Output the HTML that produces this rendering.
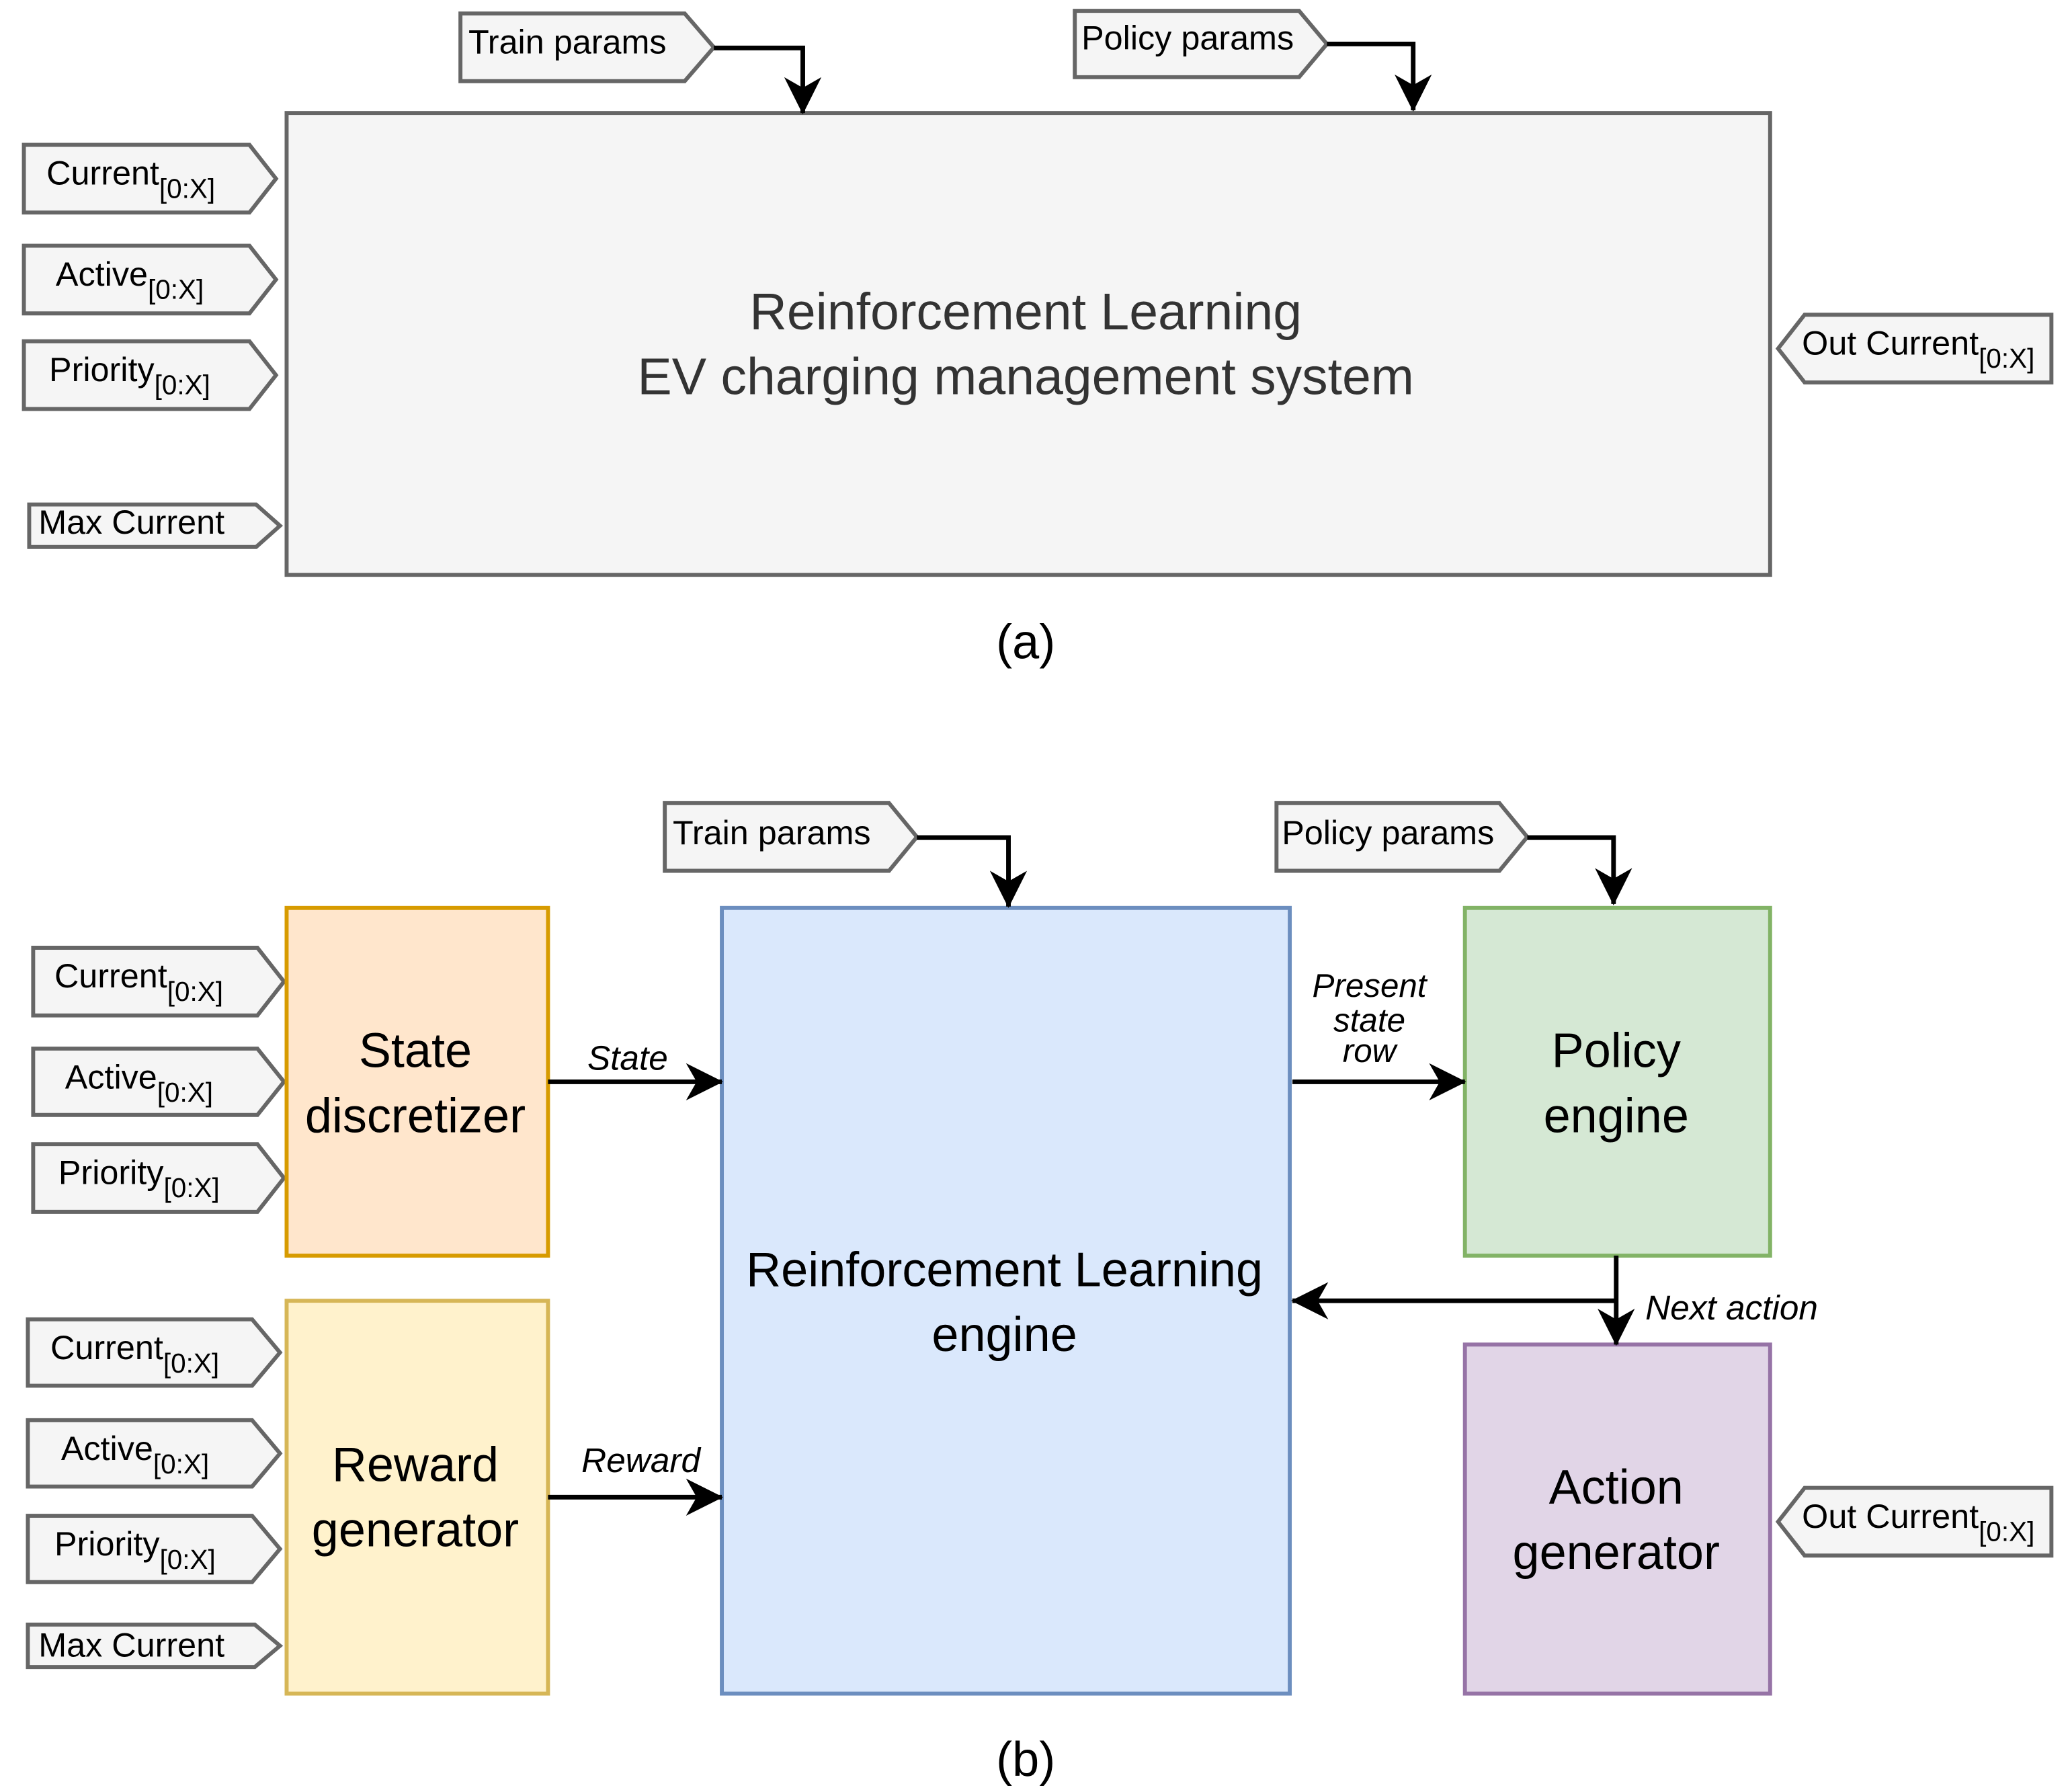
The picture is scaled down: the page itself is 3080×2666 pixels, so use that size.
<!DOCTYPE html>
<html><head><meta charset="utf-8"><style>
html,body{margin:0;padding:0;background:#fff}
svg{display:block}
text{font-family:"Liberation Sans",Arial,sans-serif}
</style></head><body>
<svg width="3080" height="2666" viewBox="0 0 1560 1350" xmlns="http://www.w3.org/2000/svg">
<defs>
<marker id="ar" viewBox="0 0 28 28" refX="27" refY="14" markerWidth="28" markerHeight="28" markerUnits="userSpaceOnUse" orient="auto">
<path d="M0,0 L28,14 L0,28 L8,14 Z" fill="#000"/>
</marker>
</defs>
<g fill="#f5f5f5" stroke="#666" stroke-width="3">
<polygon points="347,10 516,10 538,35.5 516,61 347,61"/>
<polygon points="810,8 979,8 1000,33 979,58 810,58"/>
<rect x="216" y="85" width="1118" height="348"/>
<polygon points="18,109 188,109 208,134.5 188,160 18,160"/>
<polygon points="18,185 188,185 208,210.5 188,236 18,236"/>
<polygon points="18,257 188,257 208,282.5 188,308 18,308"/>
<polygon points="22,380 193,380 211,396 193,412 22,412"/>
<polygon points="1546,237 1360,237 1340,262.5 1360,288 1546,288"/>
<polygon points="501,605 670,605 691,630.5 670,656 501,656"/>
<polygon points="962,605 1130,605 1151,630.5 1130,656 962,656"/>
<polygon points="25,714 194,714 214,739.5 194,765 25,765"/>
<polygon points="25,790 194,790 214,815 194,840 25,840"/>
<polygon points="25,862 194,862 214,887.5 194,913 25,913"/>
<polygon points="21,994 190,994 211,1019 190,1044 21,1044"/>
<polygon points="21,1070 190,1070 211,1095 190,1120 21,1120"/>
<polygon points="21,1142 190,1142 211,1167 190,1192 21,1192"/>
<polygon points="21,1224 192,1224 211,1240 192,1256 21,1256"/>
<polygon points="1546,1121 1360,1121 1340,1146.5 1360,1172 1546,1172"/>
</g>
<rect x="216" y="684" width="197" height="262" fill="#ffe6cc" stroke="#d79b00" stroke-width="3"/>
<rect x="216" y="980" width="197" height="296" fill="#fff2cc" stroke="#d6b656" stroke-width="3"/>
<rect x="544" y="684" width="428" height="592" fill="#dae8fc" stroke="#6c8ebf" stroke-width="3"/>
<rect x="1104" y="684" width="230" height="262" fill="#d5e8d4" stroke="#82b366" stroke-width="3"/>
<rect x="1104" y="1013" width="230" height="263" fill="#e1d5e7" stroke="#9673a6" stroke-width="3"/>
<g fill="none" stroke="#000" stroke-width="3.5" marker-end="url(#ar)">
<polyline points="538,36 605,36 605,85"/>
<polyline points="1000,33 1065,33 1065,83"/>
<polyline points="691,631 760,631 760,683"/>
<polyline points="1151,631 1216,631 1216,681"/>
<line x1="413" y1="815" x2="544" y2="815"/>
<line x1="413" y1="1128" x2="544" y2="1128"/>
<line x1="974" y1="815" x2="1104" y2="815"/>
<line x1="1218" y1="946" x2="1218" y2="1013"/>
<polyline points="1218,980 974,980"/>
</g>
<g font-size="25.5" fill="#000">
<text x="353" y="40">Train params</text>
<text x="815" y="37">Policy params</text>
<text x="35" y="139">Current<tspan font-size="20.5" dy="10">[0:X]</tspan></text>
<text x="42" y="215">Active<tspan font-size="20.5" dy="10">[0:X]</tspan></text>
<text x="37" y="287">Priority<tspan font-size="20.5" dy="10">[0:X]</tspan></text>
<text x="29" y="402">Max Current</text>
<text x="1358" y="267">Out Current<tspan font-size="20.5" dy="10">[0:X]</tspan></text>
<text x="507" y="636">Train params</text>
<text x="966" y="636">Policy params</text>
<text x="41" y="744">Current<tspan font-size="20.5" dy="10">[0:X]</tspan></text>
<text x="49" y="820">Active<tspan font-size="20.5" dy="10">[0:X]</tspan></text>
<text x="44" y="892">Priority<tspan font-size="20.5" dy="10">[0:X]</tspan></text>
<text x="38" y="1024">Current<tspan font-size="20.5" dy="10">[0:X]</tspan></text>
<text x="46" y="1100">Active<tspan font-size="20.5" dy="10">[0:X]</tspan></text>
<text x="41" y="1172">Priority<tspan font-size="20.5" dy="10">[0:X]</tspan></text>
<text x="29" y="1248">Max Current</text>
<text x="1358" y="1151">Out Current<tspan font-size="20.5" dy="10">[0:X]</tspan></text>
</g>
<g font-size="39" fill="#333" text-anchor="middle">
<text x="773" y="248">Reinforcement Learning</text>
<text x="773" y="297">EV charging management system</text>
</g>
<g font-size="36.5" fill="#000" text-anchor="middle">
<text x="773" y="496">(a)</text>
<text x="773" y="1338">(b)</text>
<text x="313" y="804">State</text>
<text x="313" y="853">discretizer</text>
<text x="313" y="1116">Reward</text>
<text x="313" y="1165">generator</text>
<text x="757" y="969">Reinforcement Learning</text>
<text x="757" y="1018">engine</text>
<text x="1218" y="804">Policy</text>
<text x="1218" y="853">engine</text>
<text x="1218" y="1133">Action</text>
<text x="1218" y="1182">generator</text>
</g>
<g font-size="26" font-style="italic" fill="#000" text-anchor="middle">
<text x="473" y="806">State</text>
<text x="483" y="1109">Reward</text>
<text x="1305" y="994">Next action</text>
</g>
<g font-size="25" font-style="italic" fill="#000" text-anchor="middle">
<text x="1032" y="751">Present</text>
<text x="1032" y="777">state</text>
<text x="1032" y="800">row</text>
</g>
</svg>
</body></html>
